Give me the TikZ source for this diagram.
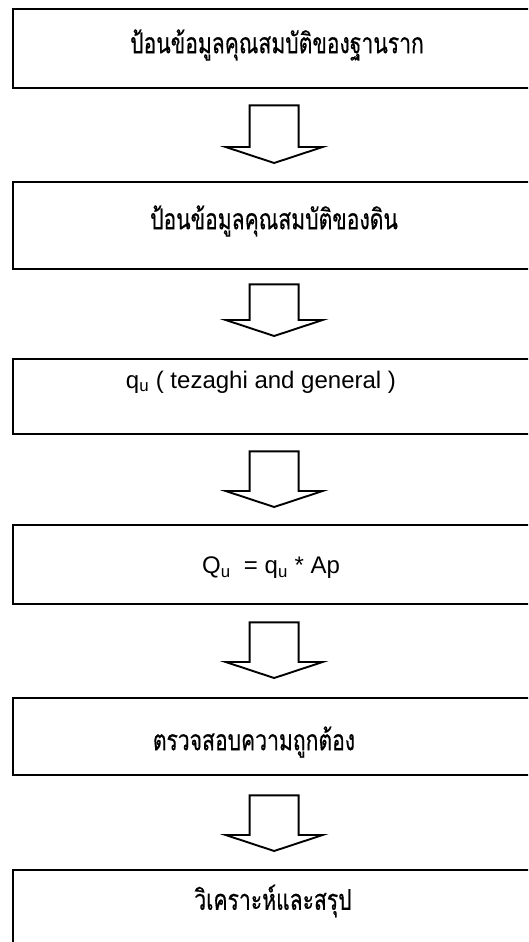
\documentclass[tikz,border=0pt]{standalone}
\usepackage{fontspec}
\usepackage{graphicx}
\setmainfont{Liberation Sans}
\newfontfamily\thaifont[Script=Thai,FakeBold=0.5]{Loma}
\usetikzlibrary{calc}
\newcommand{\thaiscale}[1]{\scalebox{0.96}[1.3]{#1}}
\begin{document}
\begin{tikzpicture}[x=1pt,y=-1pt,
  stepbox/.style={draw, line width=2.3pt, inner sep=0pt, minimum width=522pt, anchor=north west},
  thaitext/.style={font=\thaifont\fontsize{22}{26}\selectfont, inner sep=0pt},
  lattext/.style={font=\fontsize{24}{28}\selectfont, inner sep=0pt},
  blockarrow/.style={draw, line width=1.9pt, line join=miter}]
\useasboundingbox (0,0) rectangle (528,942);
\fill[white] (0,0) rectangle (528,942);
\begin{scope}
\clip (0,0) rectangle (528,942);
\node[stepbox, minimum height=79pt] (b1) at (12,8) {};
\node[stepbox, minimum height=87pt] (b2) at (12,181) {};
\node[stepbox, minimum height=75pt] (b3) at (12,358) {};
\node[stepbox, minimum height=79pt] (b4) at (12,524) {};
\node[stepbox, minimum height=77pt] (b5) at (12,697) {};
\node[stepbox, minimum height=120pt] (b6) at (12,869) {};
\end{scope}
\node[thaitext] (t1) at (277,45) {\thaiscale{ป้อนข้อมูลคุณสมบัติของฐานราก}};
\node[thaitext] (t2) at (274,221) {\thaiscale{ป้อนข้อมูลคุณสมบัติของดิน}};
\node[lattext] (t3) at (261,382) {q\textsubscript{u} ( tezaghi and general )};
\node[lattext] (t4) at (271,568) {Q\textsubscript{u}\ \ = q\textsubscript{u} * Ap};
\node[thaitext] (t5) at (254,742) {\thaiscale{ตรวจสอบความถูกต้อง}};
\node[thaitext] (t6) at (273,901) {\thaiscale{วิเคราะห์และสรุป}};
\foreach \a/\b/\g/\h in {b1/b2/16/18, b2/b3/14/22, b3/b4/16/17, b4/b5/17/19, b5/b6/19/18}{
  \draw[blockarrow] let \p1=($(\a.south)+(0,\g)$), \p2=($(\b.north)+(0,-\h)$) in
    (\x1-24.5pt,\y1) -- (\x1+24.5pt,\y1) -- (\x1+24.5pt,\y2+16pt) -- (\x1+48.5pt,\y2+16pt)
    -- (\x1,\y2) -- (\x1-48.5pt,\y2+16pt) -- (\x1-24.5pt,\y2+16pt) -- cycle;
}
\end{tikzpicture}
\end{document}
